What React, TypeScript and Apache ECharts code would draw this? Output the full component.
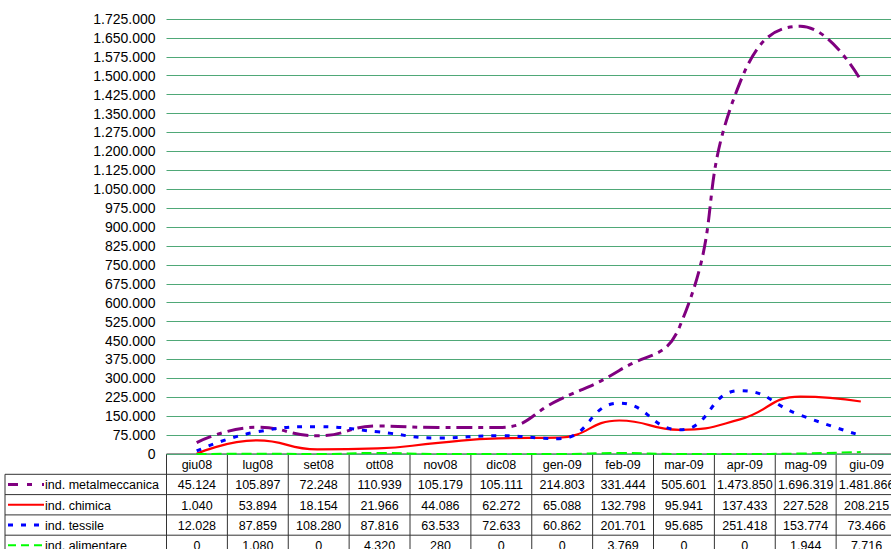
import React, { useEffect, useRef } from "react";
import * as echarts from "echarts";

const categories = ["giu08", "lug08", "set08", "ott08", "nov08", "dic08", "gen-09", "feb-09", "mar-09", "apr-09", "mag-09", "giu-09"];
const metalmeccanica = [45124, 105897, 72248, 110939, 105179, 105111, 214803, 331444, 505601, 1473850, 1696319, 1481866];
const chimica = [1040, 53894, 18154, 21966, 44086, 62272, 65088, 132798, 95941, 137433, 227528, 208215];
const tessile = [12028, 87859, 108280, 87816, 63533, 72633, 60862, 201701, 95685, 251418, 153774, 73466];
const alimentare = [0, 1080, 0, 4320, 280, 0, 0, 3769, 0, 0, 1944, 7716];
const seriesNames = ["ind. metalmeccanica", "ind. chimica", "ind. tessile", "ind. alimentare"];
const yMax = 1725000;
const yStep = 75000;

const fmt = (v: number) => String(Math.round(v)).replace(/\B(?=(\d{3})+(?!\d))/g, ".");

const FONT = "Arial, 'Liberation Sans', sans-serif";
const GRID_LEFT = 166.5;
const GRID_TOP = 19;
const GRID_W = 730.5;
const GRID_H = 435;
const ROW_H = 20.3;
const KEY_LEFT = 5;

const styles = [
  { color: "#800080", width: 3, dash: [16, 6, 5, 6] as number[] | "solid" },
  { color: "#ff0000", width: 2.2, dash: "solid" as number[] | "solid" },
  { color: "#0000ff", width: 3, dash: [5, 8] as number[] | "solid" },
  { color: "#00ff00", width: 2, dash: [10, 5] as number[] | "solid" },
];
const keyStyles = [
  [10, 9, 5, 10],
  null,
  [5, 8],
  [8, 5],
];

export default function App() {
  const ref = useRef<HTMLDivElement>(null);
  useEffect(() => {
    if (!ref.current) return;
    const chart = echarts.init(ref.current, undefined, { renderer: "svg" });
    const data = [metalmeccanica, chimica, tessile, alimentare];
    const colW = GRID_W / categories.length;
    const tableTop = GRID_TOP + GRID_H;
    const graphics: any[] = [];
    const lineStyle = { stroke: "#333", lineWidth: 1 };
    graphics.push({ type: "line", shape: { x1: GRID_LEFT, y1: tableTop, x2: GRID_LEFT + GRID_W, y2: tableTop }, style: lineStyle });
    for (let r = 1; r <= data.length + 1; r++) {
      const y = tableTop + r * ROW_H;
      graphics.push({ type: "line", shape: { x1: KEY_LEFT, y1: y, x2: GRID_LEFT + GRID_W, y2: y }, style: lineStyle });
    }
    for (let c = 0; c <= categories.length; c++) {
      const x = GRID_LEFT + c * colW;
      graphics.push({ type: "line", shape: { x1: x, y1: tableTop, x2: x, y2: tableTop + (data.length + 1) * ROW_H + 20 }, style: lineStyle });
    }
    graphics.push({ type: "line", shape: { x1: KEY_LEFT, y1: tableTop + ROW_H, x2: KEY_LEFT, y2: 560 }, style: lineStyle });
    categories.forEach((c, i) => {
      graphics.push({
        type: "text",
        style: { text: c, x: GRID_LEFT + (i + 0.5) * colW, y: tableTop + ROW_H / 2 + 1, textAlign: "center", textVerticalAlign: "middle", font: `12.5px ${FONT}`, fill: "#000" },
      });
    });
    data.forEach((arr, r) => {
      const yc = tableTop + (r + 1.5) * ROW_H + 1;
      const st = styles[r];
      graphics.push({
        type: "line",
        shape: { x1: KEY_LEFT + 3, y1: yc - 1, x2: KEY_LEFT + 39, y2: yc - 1 },
        style: { stroke: st.color, lineWidth: st.width, lineDash: keyStyles[r] },
      });
      graphics.push({
        type: "text",
        style: { text: seriesNames[r], x: KEY_LEFT + 40, y: yc, textAlign: "left", textVerticalAlign: "middle", font: `12.5px ${FONT}`, fill: "#000" },
      });
      arr.forEach((v, i) => {
        graphics.push({
          type: "text",
          style: { text: fmt(v), x: GRID_LEFT + (i + 0.5) * colW, y: yc, textAlign: "center", textVerticalAlign: "middle", font: `12.5px ${FONT}`, fill: "#000" },
        });
      });
    });

    chart.setOption({
      animation: false,
      backgroundColor: "#fff",
      grid: { left: GRID_LEFT, top: GRID_TOP, width: GRID_W, height: GRID_H, containLabel: false },
      xAxis: {
        type: "category",
        data: categories,
        boundaryGap: true,
        axisLine: { show: false },
        axisTick: { show: false },
        axisLabel: { show: false },
        splitLine: { show: false },
      },
      yAxis: {
        type: "value",
        min: 0,
        max: yMax,
        interval: yStep,
        axisLine: { show: false },
        axisTick: { show: false },
        axisLabel: { formatter: (v: number) => fmt(v), color: "#000", fontFamily: FONT, fontSize: 14, margin: 11 },
        splitLine: { lineStyle: { color: "#4fa877", width: 1 } },
      },
      series: data.map((arr, i) => ({
        name: seriesNames[i],
        type: "line",
        data: arr,
        smooth: 0.5,
        symbol: "none",
        z: 5,
        lineStyle: { color: styles[i].color, width: styles[i].width, type: styles[i].dash },
      })),
      graphic: graphics,
    });
    return () => chart.dispose();
  }, []);
  return <div ref={ref} style={{ position: "absolute", left: 0, top: 0, width: 891, height: 549, background: "#fff" }} />;
}
